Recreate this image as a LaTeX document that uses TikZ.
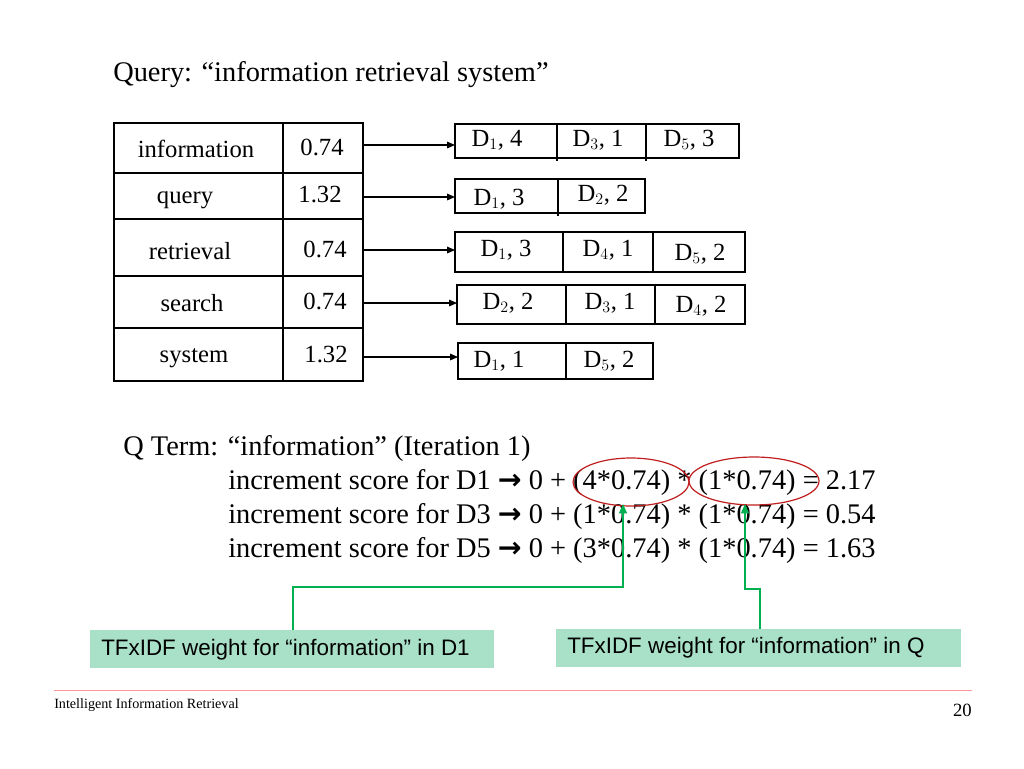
\documentclass[tikz,border=0pt]{standalone}
\usepackage{fontspec}
\setmainfont{Liberation Serif}
\newfontfamily\arial{Liberation Sans}
\newfontfamily\djv{DejaVu Sans}
\usetikzlibrary{arrows.meta}
\definecolor{gline}{RGB}{0,176,80}
\definecolor{gfill}{RGB}{168,224,200}
\definecolor{eline}{RGB}{192,30,30}
\begin{document}
\begin{tikzpicture}[x=0.75pt,y=-0.75pt,
  cell/.style={draw,line width=0.9pt},
  tx/.style={font=\fontsize{18.5}{20}\selectfont,inner sep=0pt},
  conn/.style={-{Triangle[length=6pt,width=5pt]},line width=0.8pt},
  gconn/.style={-{Triangle[length=7pt,width=6pt]},draw=gline,line width=1pt},
  gbox/.style={fill=gfill,anchor=north west,inner sep=0pt},
  gtx/.style={anchor=west,inner sep=0pt,font=\arial\fontsize{16.8}{19}\selectfont},
  big/.style={font=\fontsize{21.3}{24}\selectfont,anchor=base west,inner sep=0pt}]
\useasboundingbox (0,0) rectangle (1024,768);
\node[anchor=base west,inner sep=0pt,font=\fontsize{21.3}{24}\selectfont] (title) at (113,81) {Query: “information retrieval system”};
% table
\draw[cell] (114,123) rectangle (363,381);
\foreach \y in {173,219,276,328} \draw[cell] (114,\y) -- (363,\y);
\draw[cell] (283,123) -- (283,381);
\node[tx] (t1) at (196,149) {information}; \node[tx] (v1) at (322,147) {0.74};
\node[tx] (t2) at (185,200) {query}; \node[tx] (v2) at (320,195) {1.32};
\node[tx] (t3) at (190,251) {retrieval}; \node[tx] (v3) at (325,249) {0.74};
\node[tx] (t4) at (192,303) {search}; \node[tx] (v4) at (325,301) {0.74};
\node[tx] (t5) at (194,358) {system}; \node[tx] (v5) at (326,355) {1.32};
% lists
\draw[cell] (455,124) rectangle (739,158) (557,124)--(557,161) (646,124)--(646,161);
\draw[cell] (455,179) rectangle (645,213) (558,179)--(558,216);
\draw[cell] (455,232) rectangle (745,272) (563,232)--(563,272) (653,232)--(653,272);
\draw[cell] (457,285) rectangle (745,324) (566,285)--(566,324) (655,285)--(655,324);
\draw[cell] (458,343) rectangle (653,379) (566,343)--(566,379);
\coordinate (l1) at (455,145); \coordinate (l2) at (455,197); \coordinate (l3) at (455,250);
\coordinate (l4) at (457,303); \coordinate (l5) at (458,357);
\coordinate (r1) at (363,145); \coordinate (r2) at (363,197); \coordinate (r3) at (363,250);
\coordinate (r4) at (363,303); \coordinate (r5) at (363,357);
\foreach \i in {1,...,5} \draw[conn] (r\i) -- (l\i);
\node[tx] (a1) at (497,140) {D$_1$, 4}; \node[tx] (a2) at (598,140) {D$_3$, 1}; \node[tx] (a3) at (689,140) {D$_5$, 3};
\node[tx] (b1) at (499,199) {D$_1$, 3}; \node[tx] (b2) at (603,195) {D$_2$, 2};
\node[tx] (c1) at (506,250) {D$_1$, 3}; \node[tx] (c2) at (608,250) {D$_4$, 1}; \node[tx] (c3) at (700,254) {D$_5$, 2};
\node[tx] (d1) at (508,303) {D$_2$, 2}; \node[tx] (d2) at (610,303) {D$_3$, 1}; \node[tx] (d3) at (701,306) {D$_4$, 2};
\node[tx] (e1) at (499,361) {D$_1$, 1}; \node[tx] (e2) at (609,361) {D$_5$, 2};
% Q term
\node[big] (q0) at (123,455) {Q Term: “information” (Iteration 1)};
\node[big] (q1) at (228,489) {increment score for D1 {\djv\bfseries →} 0 + (4*0.74) * (1*0.74) = 2.17};
\node[big] (q2) at (228,523) {increment score for D3 {\djv\bfseries →} 0 + (1*0.74) * (1*0.74) = 0.54};
\node[big] (q3) at (228,557) {increment score for D5 {\djv\bfseries →} 0 + (3*0.74) * (1*0.74) = 1.63};
\draw[eline,line width=0.9pt] (631,482) ellipse [x radius=58,y radius=24];
\draw[eline,line width=0.9pt] (754,481) ellipse [x radius=65,y radius=24];
\coordinate (h1) at (623,504); \coordinate (h2) at (745,504);
% green boxes
\node[gbox,minimum width=404*0.75pt,minimum height=38*0.75pt] (g1) at (90,630) {};
\node[gtx] (g1t) at (101,650) {TFxIDF weight for “information” in D1};
\node[gbox,minimum width=405*0.75pt,minimum height=38*0.75pt] (g2) at (556,629) {};
\node[gtx] (g2t) at (567,648) {TFxIDF weight for “information” in Q};
\draw[gconn] (g1.north west) ++(203,0) |- (623,587) -- (h1);
\draw[gconn] (g2.north west) ++(204,0) |- (745,589) -- (h2);
% footer
\draw[draw=red!40,line width=0.7pt] (54,690) -- (972,690);
\node[anchor=west,inner sep=0pt,font=\fontsize{10.6}{12}\selectfont] (ft) at (54,705) {Intelligent Information Retrieval};
\node[anchor=east,inner sep=0pt,font=\fontsize{14}{16}\selectfont] (pg) at (972,710) {20};
\end{tikzpicture}
\end{document}
